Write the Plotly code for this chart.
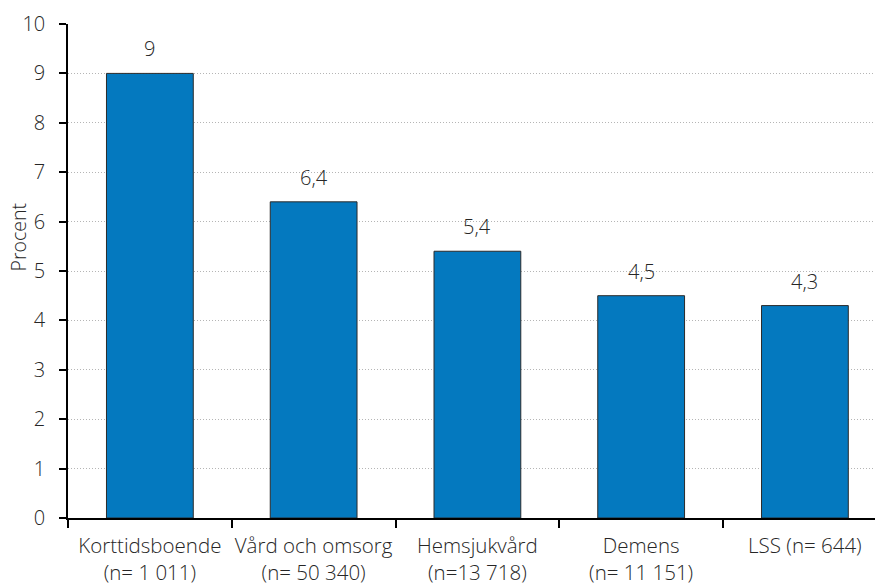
import plotly.graph_objects as go

# Andel (procent) per verksamhetsområde
categories = [
    "Korttidsboende<br>(n= 1 011)",
    "Vård och omsorg<br>(n= 50 340)",
    "Hemsjukvård<br>(n=13 718)",
    "Demens<br>(n= 11 151)",
    "LSS (n= 644)",
]
values = [9.0, 6.4, 5.4, 4.5, 4.3]
value_labels = ["9", "6,4", "5,4", "4,5", "4,3"]
y_ticks = list(range(0, 11))

font_family = "Open Sans, Noto Sans, sans-serif"
text_color = "#262626"
fsize = 20.5


def light(size=fsize):
    return dict(family=font_family, size=size, color=text_color, weight=300)


fig = go.Figure()
fig.add_trace(go.Bar(
    x=categories,
    y=values,
    width=0.53,
    marker=dict(color="#0479BF", line=dict(color="#2b2b2b", width=1)),
    hoverinfo="skip",
))

for cat, val, lab in zip(categories, values, value_labels):
    fig.add_annotation(
        x=cat, y=val, text=lab, showarrow=False,
        yanchor="bottom", yshift=9,
        font=light(20),
    )

# y-axis title
fig.add_annotation(
    xref="paper", yref="paper", x=(17.5 - 68) / 807, y=(518 - 237) / 494,
    xanchor="center", yanchor="middle", textangle=-90,
    text="Procent", showarrow=False,
    font=light(19.5),
)

fig.update_layout(
    width=875, height=586,
    margin=dict(l=68, r=0, t=24, b=68),
    paper_bgcolor="white", plot_bgcolor="white",
    showlegend=False,
    font=light(),
)
fig.update_xaxes(
    type="category",
    range=[-0.5, 4.428],
    tickson="boundaries",
    tickangle=0,
    automargin=False,
    ticks="outside", ticklen=8, tickwidth=1.5, tickcolor="black",
    showline=True, linecolor="black", linewidth=1.5,
    showgrid=False,
    ticklabelstandoff=9,
    tickfont=light(),
)
fig.update_yaxes(
    range=[0, 10],
    tickvals=y_ticks,
    automargin=False,
    ticks="outside", ticklen=7, tickwidth=1.5, tickcolor="black",
    showline=True, linecolor="black", linewidth=1.5,
    showgrid=True, gridcolor="#b5b5b5", gridwidth=1, griddash="1px,2px",
    zeroline=False,
    ticklabelstandoff=10,
    tickfont=light(20),
)

fig.write_html("out.html")
